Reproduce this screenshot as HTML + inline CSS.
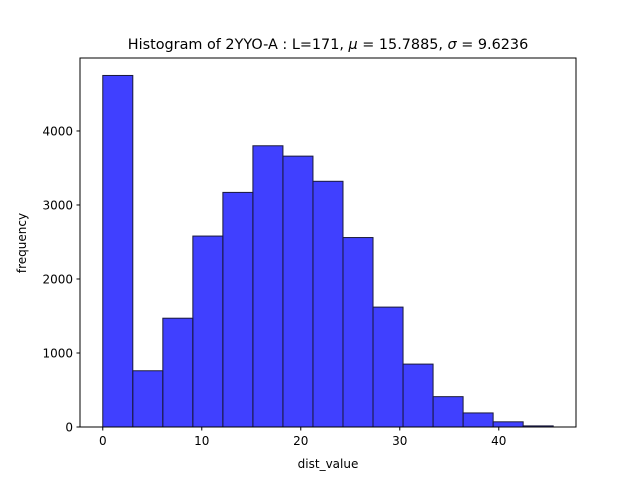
<!DOCTYPE html>
<html><head><meta charset="utf-8"><style>
body{margin:0;background:#fff;font-family:"Liberation Sans","DejaVu Sans",sans-serif}
svg text{font-family:"DejaVu Sans","Liberation Sans",sans-serif}
</style></head><body>
<svg id="c" width="640" height="480" xmlns="http://www.w3.org/2000/svg">
<rect width="640" height="480" fill="#fff"/>
<g id="bars"></g>
<rect x="80" y="58" width="496" height="369" fill="none" stroke="#000" stroke-width="1"/>
<g id="ticks"></g>
<text x="328" y="49" text-anchor="middle" font-size="14.4">Histogram of 2YYO-A : L=171, <tspan font-style="italic">μ</tspan> = 15.7885, <tspan font-style="italic">σ</tspan> = 9.6236</text>
<text x="328" y="468" text-anchor="middle" font-size="12">dist_value</text>
<text x="26" y="243" text-anchor="middle" font-size="12" transform="rotate(-90 26 243)">frequency</text>
</svg>
<script>
const binStart = 0;
const binWidth = 3.033;
const counts = [4750, 760, 1470, 2580, 3170, 3800, 3660, 3320, 2560, 1620, 850, 410, 190, 70, 15];
const xTicks = [0, 10, 20, 30, 40];
const yTicks = [0, 1000, 2000, 3000, 4000];
const X0=80,X1=576,Y0=427,Y1=58, xmin=-2.3, xmax=47.8, ymin=0, ymax=4986;
const xs=v=>X0+(v-xmin)/(xmax-xmin)*(X1-X0);
const ys=v=>Y0-(v-ymin)/(ymax-ymin)*(Y0-Y1);
const NS="http://www.w3.org/2000/svg";
const bars=document.getElementById('bars');
counts.forEach((c,i)=>{
  const r=document.createElementNS(NS,'rect');
  const a=xs(binStart+i*binWidth), b=xs(binStart+(i+1)*binWidth);
  r.setAttribute('x',a);r.setAttribute('width',b-a);
  r.setAttribute('y',ys(c));r.setAttribute('height',ys(0)-ys(c));
  r.setAttribute('fill','rgba(0,0,255,0.75)');r.setAttribute('stroke','#1a1a3a');r.setAttribute('stroke-width','1');
  
  
  bars.appendChild(r);
});
const tg=document.getElementById('ticks');
xTicks.forEach(v=>{
  const x=xs(v);
  const l=document.createElementNS(NS,'line');
  l.setAttribute('x1',x);l.setAttribute('x2',x);l.setAttribute('y1',427);l.setAttribute('y2',430.5);l.setAttribute('stroke','#000');
  
  
  tg.appendChild(l);
  const t=document.createElementNS(NS,'text');
  t.setAttribute('x',x);t.setAttribute('y',445);t.setAttribute('text-anchor','middle');t.setAttribute('font-size','12');
  t.textContent=v;
  
  
  tg.appendChild(t);
});
yTicks.forEach(v=>{
  const y=ys(v);
  const l=document.createElementNS(NS,'line');
  l.setAttribute('x1',76.5);l.setAttribute('x2',80);l.setAttribute('y1',y);l.setAttribute('y2',y);l.setAttribute('stroke','#000');
  
  
  tg.appendChild(l);
  const t=document.createElementNS(NS,'text');
  t.setAttribute('x',73);t.setAttribute('y',y+4.5);t.setAttribute('text-anchor','end');t.setAttribute('font-size','12');
  t.textContent=v;
  
  
  tg.appendChild(t);
});
</script>
</body></html>
